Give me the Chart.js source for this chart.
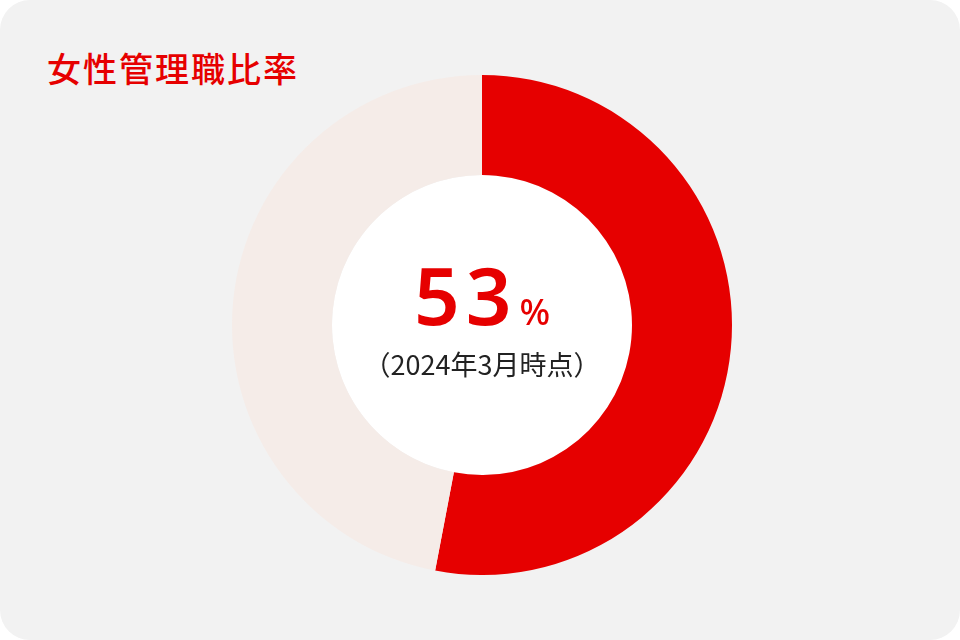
<!DOCTYPE html>
<html lang="ja">
<head>
<meta charset="utf-8">
<script src="https://cdn.jsdelivr.net/npm/chart.js@4/dist/chart.umd.min.js"></script>
<style>
  html, body { margin: 0; padding: 0; background: #ffffff; }
  #card {
    position: relative; width: 960px; height: 640px;
    background: #f2f2f2; border-radius: 30px; overflow: hidden;
    font-family: "Noto Sans CJK JP", "Noto Sans", sans-serif;
  }
  #title {
    position: absolute; left: 47px; top: 43px; margin: 0;
    font-size: 34px; font-weight: 500; color: #e60000; letter-spacing: 2px;
  }
  #chartBox { position: absolute; left: 232px; top: 75px; width: 500px; height: 500px; }
  #center { position: absolute; left: 332px; top: 175px; width: 300px; height: 300px; text-align: center; }
  #value { position: absolute; left: 0; right: 0; top: 64px; color: #e60000; font-family: "Noto Sans", "Open Sans", sans-serif; white-space: nowrap; }
  #value .num { font-size: 80px; font-weight: 600; letter-spacing: 6px; }
  #value .pct { font-size: 36px; font-weight: 500; margin-left: 2px; }
  #note { position: absolute; left: -30px; right: -30px; top: 169px; font-size: 27px; color: #222; white-space: nowrap; }
</style>
</head>
<body>
<div id="card">
  <h1 id="title">女性管理職比率</h1>
  <div id="chartBox"><canvas id="ratioChart"></canvas></div>
  <div id="center">
    <div id="value"><span class="num">53</span><span class="pct">%</span></div>
    <div id="note">（2024年3月時点）</div>
  </div>
</div>
<script>
const labels = ["女性", "男性"];
const values = [53, 47];
const colors = ["#e60000", "#f5ece8"];

// fill the hole of the doughnut with white
const whiteHole = {
  id: "whiteHole",
  beforeDatasetsDraw(chart) {
    const arc = chart.getDatasetMeta(0).data[0];
    if (!arc) return;
    const { ctx } = chart;
    ctx.save();
    ctx.fillStyle = "#ffffff";
    ctx.beginPath();
    ctx.arc(arc.x, arc.y, arc.innerRadius, 0, Math.PI * 2);
    ctx.fill();
    ctx.restore();
  }
};

new Chart(document.getElementById("ratioChart"), {
  type: "doughnut",
  data: {
    labels: labels,
    datasets: [{ data: values, backgroundColor: colors, borderWidth: 0 }]
  },
  options: {
    responsive: true,
    maintainAspectRatio: false,
    animation: false,
    cutout: "60%",
    plugins: { legend: { display: false }, tooltip: { enabled: false } }
  },
  plugins: [whiteHole]
});
</script>
</body>
</html>
